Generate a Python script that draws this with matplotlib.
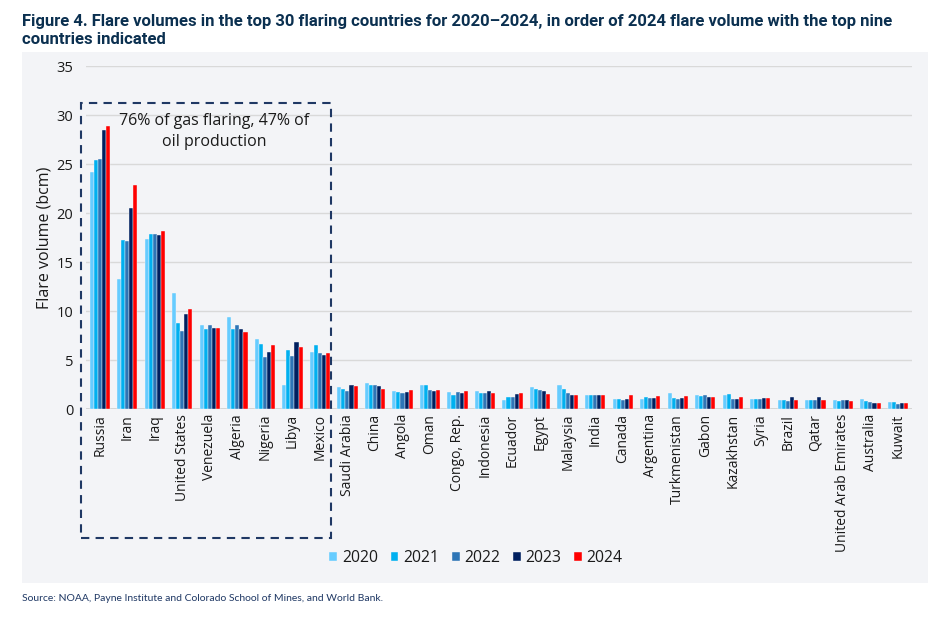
import matplotlib.pyplot as plt
import numpy as np
from matplotlib.patches import Rectangle

countries = ["Russia", "Iran", "Iraq", "United States", "Venezuela", "Algeria", "Nigeria",
             "Libya", "Mexico", "Saudi Arabia", "China", "Angola", "Oman", "Congo, Rep.",
             "Indonesia", "Ecuador", "Egypt", "Malaysia", "India", "Canada", "Argentina",
             "Turkmenistan", "Gabon", "Kazakhstan", "Syria", "Brazil", "Qatar",
             "United Arab Emirates", "Australia", "Kuwait"]
years = ["2020", "2021", "2022", "2023", "2024"]

v2020 = [24.2, 13.3, 17.4, 11.8, 8.6, 9.35, 7.2, 2.5, 5.8, 2.24, 2.69, 1.84, 2.48, 1.77,
         1.84, 0.95, 2.3, 2.41, 1.46, 1.02, 1.02, 1.63, 1.46, 1.46, 0.99, 0.95, 0.92, 0.92,
         0.99, 0.68]
v2021 = [25.4, 17.3, 17.9, 8.8, 8.2, 8.2, 6.6, 6.0, 6.5, 2.07, 2.48, 1.77, 2.45, 1.46,
         1.63, 1.19, 2.07, 2.07, 1.45, 1.02, 1.22, 1.16, 1.36, 1.5, 1.02, 0.92, 0.92, 0.85,
         0.78, 0.68]
v2022 = [25.5, 17.2, 17.9, 8.0, 8.6, 8.6, 5.3, 5.4, 5.7, 1.8, 2.48, 1.63, 2.0, 1.77,
         1.63, 1.19, 1.97, 1.6, 1.46, 0.88, 1.16, 1.02, 1.39, 0.99, 1.02, 0.85, 0.95, 0.92,
         0.71, 0.54]
v2023 = [28.5, 20.5, 17.8, 9.7, 8.3, 8.2, 5.8, 6.8, 5.5, 2.48, 2.38, 1.77, 1.84, 1.63,
         1.87, 1.53, 1.84, 1.46, 1.45, 1.05, 1.09, 1.16, 1.19, 0.99, 1.09, 1.19, 1.19, 0.88,
         0.65, 0.65]
v2024 = [28.9, 22.9, 18.2, 10.2, 8.3, 7.9, 6.5, 6.3, 5.75, 2.4, 2.07, 2.0, 1.97, 1.87,
         1.63, 1.6, 1.56, 1.46, 1.45, 1.39, 1.36, 1.36, 1.19, 1.19, 1.09, 0.92, 0.92, 0.78,
         0.58, 0.58]
series = [v2020, v2021, v2022, v2023, v2024]
colors = ["#66CCFF", "#00B0F0", "#2E75B6", "#002060", "#FF0000"]

navy = "#1F3864"
text_col = "#1a1a1a"
font = "Open Sans"

fig = plt.figure(figsize=(9.48, 6.18), dpi=100)
fig.patches.append(Rectangle((0.0232, 0.0566), 0.9558, 0.8594, transform=fig.transFigure,
                             facecolor="#F3F4F7", edgecolor="none", zorder=-10))

ax = fig.add_axes([0.0907, 0.338, 0.871, 0.555])
ax.set_facecolor("none")

x = np.arange(len(countries))
w = 0.148
for i, (vals, c) in enumerate(zip(series, colors)):
    ax.bar(x + (i - 2) * w, vals, width=w, color=c, label=years[i], zorder=3,
           edgecolor="#F3F4F7", linewidth=0.3)

ax.set_xlim(-0.5, len(countries) - 0.5)
ax.set_ylim(0, 35)
ax.set_yticks(range(0, 36, 5))
ax.yaxis.grid(True, color="#D9D9D9", linewidth=1)
ax.set_axisbelow(True)
ax.axhline(0, color="#D0D0D0", linewidth=1.2, zorder=2)
for s in ax.spines.values():
    s.set_visible(False)
ax.tick_params(length=0)
ax.tick_params(axis="y", pad=9)
ax.set_xticks(x)
ax.set_xticklabels(countries, rotation=90, family=font, fontsize=10, color=text_col)
for lab in ax.get_yticklabels():
    lab.set_family(font)
    lab.set_fontsize(10.5)
    lab.set_color(text_col)
ax.set_ylabel("Flare volume (bcm)", family=font, fontsize=11.5, color=text_col, labelpad=3)

# top-nine box
ax.add_patch(Rectangle((-0.69, -13.2), 9.09, 44.4, fill=False, edgecolor=navy,
                       linestyle=(0, (4, 3)), linewidth=1.5, clip_on=False, zorder=4))
ax.text(4.15, 28.3, "76% of gas flaring, 47% of\noil production", ha="center", va="center",
        family=font, fontsize=11.5, color=text_col, linespacing=1.45)

leg = fig.legend(loc="center", bbox_to_anchor=(0.502, 0.097), ncol=5, frameon=False,
                 handlelength=0.5, handleheight=0.5, handletextpad=0.3, columnspacing=0.8,
                 prop={"family": font, "size": 11.3})
for t in leg.get_texts():
    t.set_color(text_col)

fig.text(0.0232, 0.978, "Figure 4. Flare volumes in the top 30 flaring countries for 2020\u20132024, "
         "in order of 2024 flare volume with the top nine\ncountries indicated",
         ha="left", va="top", family="Roboto", fontweight="bold", fontsize=12,
         color="#0B3050", linespacing=1.3)
fig.text(0.0232, 0.032, "Source: NOAA, Payne Institute and Colorado School of Mines, and World Bank.",
         ha="left", va="center", family="Lato", fontsize=7.5, color=navy)

fig.savefig("out.png", dpi=100)
